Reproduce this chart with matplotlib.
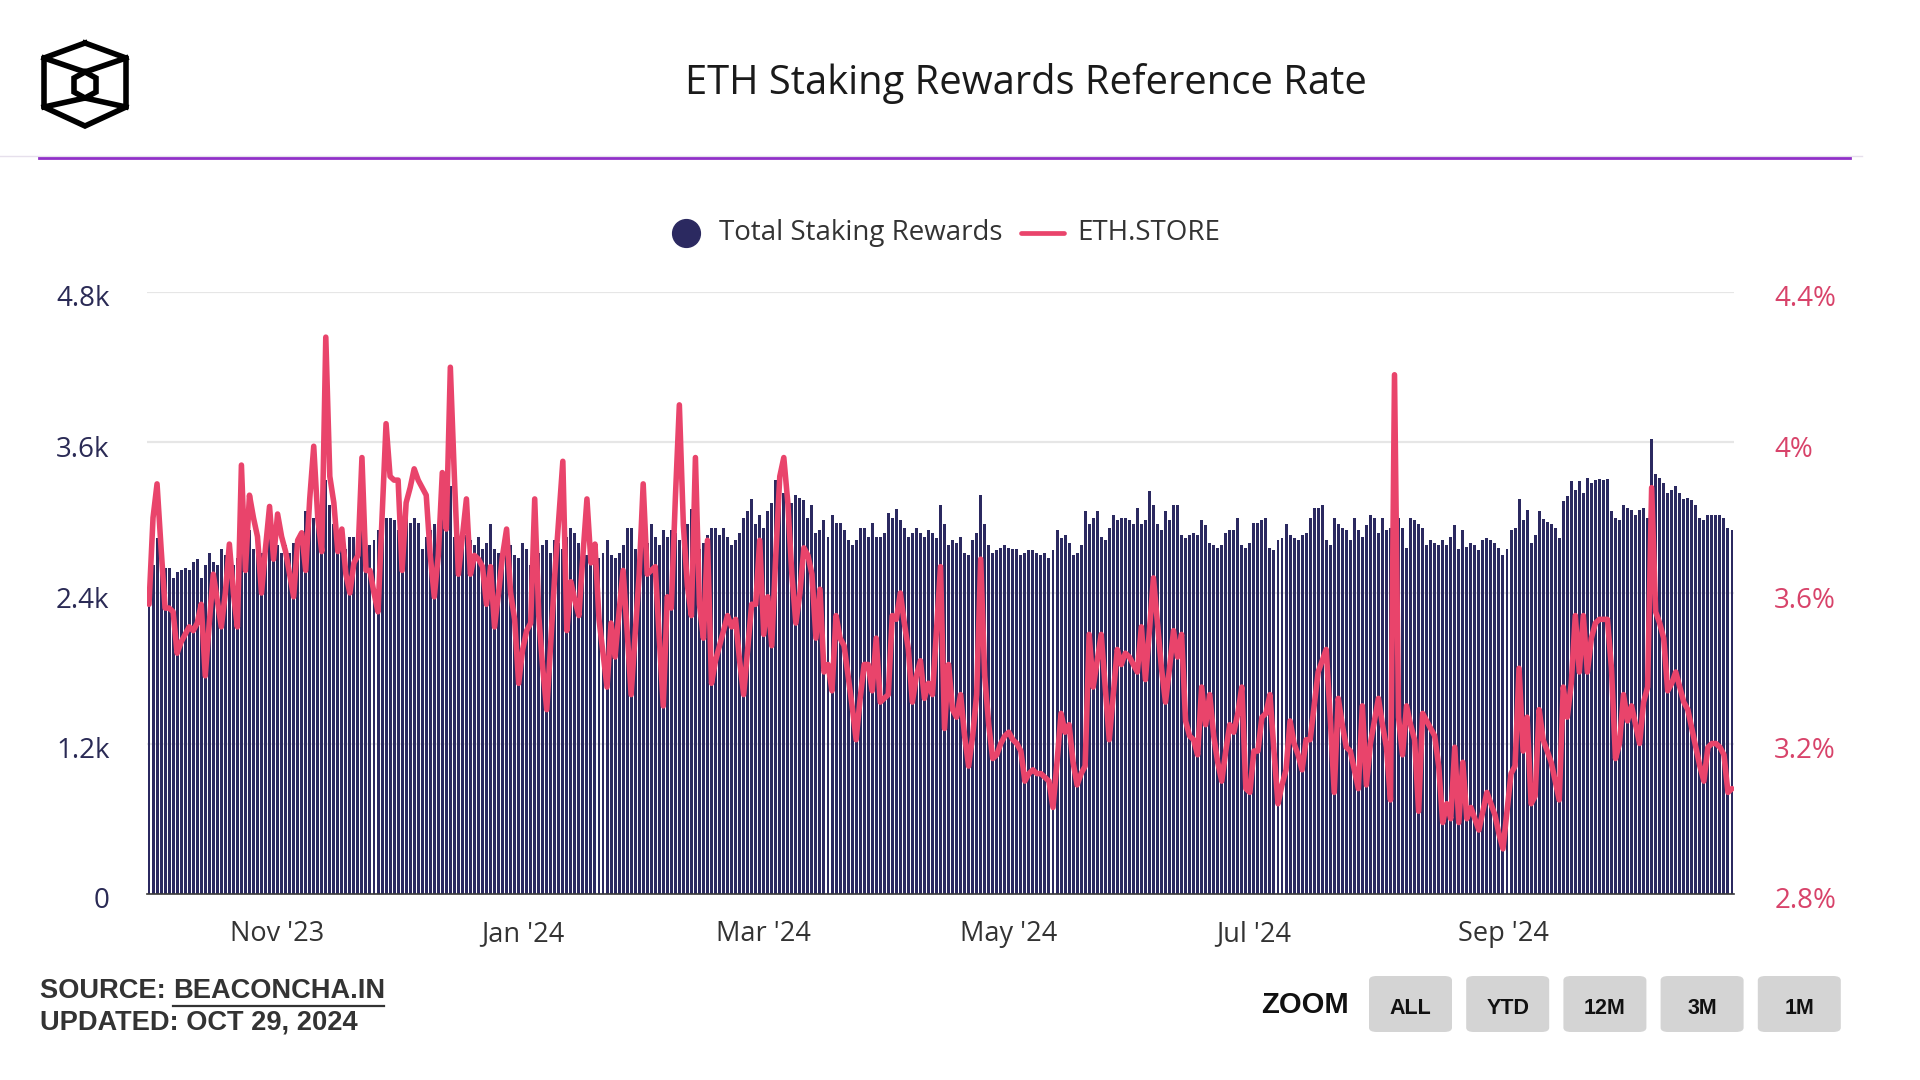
import matplotlib
matplotlib.use("Agg")
import matplotlib.pyplot as plt
from matplotlib.patches import FancyBboxPatch
from matplotlib.transforms import ScaledTranslation
import pandas as pd

# daily series, first bar is 2023-09-30
start_date = "2023-09-30"

# Total Staking Rewards (ETH per day)
total_rewards = [
    # Sep 30 - Dec 1 2023
    2580, 2620, 2840, 2620, 2600, 2600, 2520, 2570, 2580, 2600,
    2580, 2650, 2670, 2520, 2620, 2720, 2650, 2620, 2750, 2700,
    2660, 2620, 2680, 2900, 2950, 2900, 2750, 2720, 2720, 2800,
    2850, 2800, 2780, 2720, 2780, 2720, 2800, 2780, 2850, 3050,
    2950, 3000, 3100, 3050, 3300, 3100, 2950, 2900, 2850, 2750,
    2850, 2850, 2800, 2950, 2850, 2780, 2820, 2900, 3080, 3000,
    3000, 2980, 2900,
    # Dec 2 2023 - Feb 7 2024
    2980, 3020, 2960, 3000, 2960, 2750, 2850, 2900, 2950, 2950,
    3050, 2900, 3250, 2850, 2820, 2860, 2860, 2820, 2780, 2850,
    2750, 2800, 2950, 2750, 2720, 2700, 2750, 2780, 2700, 2680,
    2800, 2750, 2620, 2700, 2720, 2780, 2820, 2720, 2820, 2800,
    2750, 2850, 2920, 2880, 2800, 2750, 2700, 2650, 2750, 2680,
    2720, 2820, 2700, 2680, 2720, 2780, 2920, 2920, 2750, 2700,
    2850, 2800, 2950, 2850, 2780, 2900, 2850, 2900,
    # Feb 8 - Apr 11 2024
    2880, 2820, 2900, 2950, 3070, 2880, 2750, 2800, 2860, 2920,
    2920, 2860, 2920, 2850, 2780, 2820, 2880, 3000, 3050, 3150,
    2950, 3020, 2920, 3050, 3120, 3300, 3320, 3200, 3080, 3120,
    3180, 3160, 3140, 3000, 3100, 2880, 2900, 2980, 2850, 3020,
    2960, 2960, 2900, 2820, 2780, 2820, 2920, 2920, 2850, 2960,
    2850, 2850, 2880, 3040, 3000, 3070, 2980, 2920, 2850, 2880,
    2920, 2880, 2850, 2900,
    # Apr 12 - Jun 15 2024
    2880, 2840, 3100, 2950, 2780, 2820, 2800, 2850, 2720, 2700,
    2820, 2880, 3180, 2950, 2780, 2720, 2740, 2760, 2780, 2760,
    2750, 2750, 2700, 2720, 2740, 2740, 2720, 2700, 2720, 2680,
    2740, 2900, 2840, 2860, 2800, 2700, 2720, 2780, 3050, 2950,
    3000, 3050, 2850, 2820, 2920, 3020, 2980, 3000, 3000, 2980,
    2950, 3080, 2950, 2980, 3210, 3100, 2950, 2900, 3050, 2980,
    3100, 3100, 2860, 2840, 2860,
    # Jun 16 - Aug 19 2024
    2880, 2860, 2980, 2940, 2800, 2780, 2760, 2780, 2880, 2900,
    2900, 3000, 2780, 2760, 2800, 2960, 2960, 2980, 3000, 2760,
    2740, 2820, 2840, 2950, 2860, 2840, 2820, 2860, 2880, 3000,
    3080, 3080, 3100, 2820, 2780, 3000, 2950, 2920, 2900, 2820,
    3000, 2900, 2850, 2940, 3020, 3000, 2880, 3000, 2900, 2920,
    3020, 3000, 2920, 2760, 3000, 2980, 2950, 2920, 2780, 2820,
    2800, 2780, 2820, 2780, 2850,
    # Aug 20 - Oct 28 2024
    2940, 2750, 2900, 2770, 2800, 2780, 2740, 2820, 2840, 2820,
    2800, 2760, 2700, 2750, 2900, 2920, 3150, 2980, 3060, 2800,
    2860, 3050, 2990, 2970, 2950, 2920, 2840, 3130, 3170, 3290,
    3220, 3290, 3200, 3320, 3280, 3300, 3310, 3300, 3310, 3050,
    3000, 2980, 3100, 3080, 3060, 3020, 3060, 3080, 3000, 3630,
    3350, 3320, 3280, 3200, 3220, 3250, 3200, 3150, 3160, 3140,
    3100, 3000, 2980, 3020, 3020, 3020, 3020, 3000, 2920, 2900,
]

# ETH.STORE rate (%), same days
eth_store = [
    3.57, 3.80, 3.89, 3.72, 3.56, 3.56, 3.55, 3.44, 3.47, 3.49,
    3.51, 3.50, 3.52, 3.57, 3.38, 3.52, 3.65, 3.58, 3.51, 3.60,
    3.73, 3.60, 3.51, 3.94, 3.66, 3.86, 3.80, 3.75, 3.60, 3.72,
    3.83, 3.69, 3.81, 3.75, 3.71, 3.65, 3.59, 3.74, 3.76, 3.66,
    3.85, 3.99, 3.80, 3.71, 4.28, 3.91, 3.84, 3.71, 3.77, 3.65,
    3.60, 3.68, 3.70, 3.96, 3.66, 3.66, 3.60, 3.55, 3.80, 4.05,
    3.91, 3.90, 3.90,
    3.66, 3.84, 3.88, 3.93, 3.90, 3.88, 3.86, 3.70, 3.59, 3.70,
    3.92, 3.77, 4.20, 3.91, 3.65, 3.75, 3.85, 3.65, 3.70, 3.69,
    3.67, 3.57, 3.67, 3.51, 3.60, 3.70, 3.77, 3.60, 3.53, 3.36,
    3.45, 3.50, 3.52, 3.85, 3.54, 3.40, 3.29, 3.47, 3.65, 3.80,
    3.95, 3.50, 3.63, 3.58, 3.54, 3.70, 3.85, 3.68, 3.73, 3.53,
    3.44, 3.35, 3.52, 3.43, 3.55, 3.66, 3.50, 3.33, 3.49, 3.65,
    3.89, 3.65, 3.66, 3.67, 3.48, 3.30, 3.59, 3.56,
    3.85, 4.10, 3.78, 3.62, 3.54, 3.96, 3.57, 3.48, 3.74, 3.36,
    3.42, 3.46, 3.50, 3.54, 3.51, 3.53, 3.42, 3.33, 3.45, 3.57,
    3.57, 3.74, 3.49, 3.59, 3.46, 3.70, 3.91, 3.96, 3.84, 3.65,
    3.52, 3.60, 3.72, 3.70, 3.65, 3.48, 3.61, 3.39, 3.41, 3.34,
    3.54, 3.48, 3.46, 3.38, 3.30, 3.21, 3.32, 3.41, 3.41, 3.34,
    3.48, 3.31, 3.32, 3.33, 3.54, 3.53, 3.60, 3.52, 3.45, 3.31,
    3.38, 3.42, 3.32, 3.36,
    3.33, 3.50, 3.67, 3.24, 3.41, 3.29, 3.27, 3.33, 3.22, 3.14,
    3.22, 3.33, 3.69, 3.38, 3.25, 3.16, 3.17, 3.20, 3.22, 3.23,
    3.21, 3.20, 3.18, 3.10, 3.12, 3.13, 3.12, 3.12, 3.11, 3.10,
    3.03, 3.15, 3.28, 3.23, 3.25, 3.15, 3.09, 3.12, 3.14, 3.49,
    3.35, 3.42, 3.49, 3.35, 3.21, 3.33, 3.45, 3.41, 3.44, 3.43,
    3.41, 3.39, 3.51, 3.37, 3.50, 3.64, 3.52, 3.40, 3.31, 3.40,
    3.50, 3.43, 3.49, 3.26, 3.22,
    3.21, 3.17, 3.35, 3.25, 3.33, 3.22, 3.15, 3.10, 3.18, 3.25,
    3.23, 3.28, 3.35, 3.08, 3.07, 3.18, 3.18, 3.27, 3.28, 3.33,
    3.18, 3.04, 3.09, 3.13, 3.26, 3.20, 3.17, 3.13, 3.21, 3.21,
    3.30, 3.39, 3.42, 3.45, 3.27, 3.07, 3.32, 3.25, 3.19, 3.18,
    3.13, 3.08, 3.30, 3.09, 3.20, 3.26, 3.32, 3.25, 3.19, 3.05,
    4.18, 3.27, 3.17, 3.30, 3.25, 3.21, 3.02, 3.28, 3.26, 3.24,
    3.22, 3.14, 2.99, 3.04, 3.00,
    3.19, 2.99, 3.15, 3.00, 3.03, 3.00, 2.97, 3.02, 3.07, 3.04,
    3.01, 2.96, 2.92, 3.02, 3.12, 3.14, 3.40, 3.18, 3.27, 3.04,
    3.06, 3.29, 3.21, 3.18, 3.15, 3.10, 3.05, 3.35, 3.27, 3.36,
    3.54, 3.39, 3.54, 3.39, 3.48, 3.52, 3.53, 3.53, 3.53, 3.40,
    3.16, 3.20, 3.33, 3.26, 3.30, 3.25, 3.20, 3.31, 3.35, 3.88,
    3.55, 3.52, 3.48, 3.34, 3.36, 3.39, 3.35, 3.31, 3.29, 3.24,
    3.19, 3.14, 3.10, 3.19, 3.20, 3.20, 3.19, 3.17, 3.07, 3.08,
]

left_ticks = [0, 1200, 2400, 3600, 4800]
left_tick_labels = ["0", "1.2k", "2.4k", "3.6k", "4.8k"]
right_ticks = [2.8, 3.2, 3.6, 4.0, 4.4]
right_tick_labels = ["2.8%", "3.2%", "3.6%", "4%", "4.4%"]
month_ticks = ["2023-11-01", "2024-01-01", "2024-03-01", "2024-05-01", "2024-07-01", "2024-09-01"]
month_labels = ["Nov '23", "Jan '24", "Mar '24", "May '24", "Jul '24", "Sep '24"]
zoom_buttons = ["ALL", "YTD", "12M", "3M", "1M"]

NAVY = "#2b2960"
PINK = "#e9446b"
W, H = 1920, 1080
FONT = "Open Sans"


def fx(px):
    return px / W


def fy(py):
    return 1 - py / H


fig = plt.figure(figsize=(19.2, 10.8), dpi=100)
fig.patch.set_facecolor("white")

# main plot area
ax = fig.add_axes([fx(147), fy(894), fx(1734) - fx(147), fy(292) - fy(894)])
dates = pd.date_range(start_date, periods=len(total_rewards), freq="D")
line_dates = pd.date_range(start_date, periods=len(eth_store), freq="D")

ax.bar(dates, total_rewards, width=0.74, color=NAVY, linewidth=0, zorder=2)
ax.set_ylim(0, 4800)
ax.set_xlim(dates[0] - pd.Timedelta(hours=12), dates[-1] + pd.Timedelta(hours=12))
ax.set_yticks(left_ticks)
ax.set_yticklabels(left_tick_labels, fontfamily=FONT, fontsize=20, color="#2a2a55")
ax.set_xticks(pd.to_datetime(month_ticks))
ax.set_xticklabels(month_labels, fontfamily=FONT, fontsize=19.5, color="#333333")
ax.tick_params(axis="y", length=0, pad=27)
ax.tick_params(axis="x", length=0, pad=19)
ax.grid(axis="y", color="#e6e6e6", linewidth=1.6, zorder=0)
ax.set_axisbelow(True)
for side in ["top", "right", "left"]:
    ax.spines[side].set_visible(False)
ax.spines["bottom"].set_color("#3a3a3a")
ax.spines["bottom"].set_linewidth(1.2)

ax2 = ax.twinx()
ax2.plot(line_dates, eth_store, color=PINK, linewidth=4.0,
         solid_joinstyle="round", solid_capstyle="round", zorder=3)
ax2.set_ylim(2.8, 4.4)
ax2.set_yticks(right_ticks)
ax2.set_yticklabels(right_tick_labels, fontfamily=FONT, fontsize=20, color="#d8436a")
ax2.tick_params(axis="y", length=0, pad=29)
for side in ["top", "right", "left", "bottom"]:
    ax2.spines[side].set_visible(False)

# nudge y labels a few pixels down, like the original
shift = ScaledTranslation(0, -0.04, fig.dpi_scale_trans)
for lab in ax.get_yticklabels() + ax2.get_yticklabels():
    lab.set_transform(lab.get_transform() + shift)

# title + separator
fig.text(fx(1026), fy(84), "ETH Staking Rewards Reference Rate", ha="center", va="center",
         fontfamily=FONT, fontsize=28.7, color="#1a1a1a")
fig.add_artist(plt.Line2D([0, fx(1862)], [fy(156), fy(156)], color="#e6e0ec", linewidth=1))
fig.add_artist(plt.Line2D([fx(39), fx(1850)], [fy(158), fy(158)], color="#9030c8", linewidth=2))

# logo (cube)
lg = fig.add_axes([fx(40), fy(132), fx(92), fy(38) - fy(132)])
lg.set_xlim(40, 132)
lg.set_ylim(132, 38)
lg.axis("off")
outer = [(85, 43), (126, 58), (126, 107), (85, 126), (44, 107), (44, 58), (85, 43)]
inner = [(85, 72), (96, 78), (96, 92), (85, 98), (74, 92), (74, 78), (85, 72)]
lg.plot([p[0] for p in outer], [p[1] for p in outer], color="black", lw=4, solid_joinstyle="miter")
lg.plot([p[0] for p in inner], [p[1] for p in inner], color="black", lw=4, solid_joinstyle="miter")
lg.plot([44, 85, 126], [58, 72, 58], color="black", lw=4)
lg.plot([44, 85, 126], [107, 98, 107], color="black", lw=4)

# legend
fig.add_artist(plt.Line2D([fx(686)], [fy(233)], marker="o", markersize=20,
                          color=NAVY, linestyle="none"))
fig.text(fx(719), fy(233), "Total Staking Rewards", ha="left", va="center",
         fontfamily=FONT, fontsize=20, color="#333333")
fig.add_artist(plt.Line2D([fx(1021), fx(1064)], [fy(233), fy(233)], color=PINK,
                          linewidth=3.4, solid_capstyle="round"))
fig.text(fx(1077), fy(233), "ETH.STORE", ha="left", va="center",
         fontfamily=FONT, fontsize=20, color="#333333")

# footer: source
foot = dict(fontfamily="Liberation Sans", fontweight="bold", fontsize=19.6, color="#333333",
            va="center", ha="left")
t1 = fig.text(fx(40), fy(991), "SOURCE: ", **foot)
fig.canvas.draw()
r = fig.canvas.get_renderer()
b1 = t1.get_window_extent(r)
t2 = fig.text(b1.x1 / W, fy(991), "BEACONCHA.IN", **foot)
b2 = t2.get_window_extent(r)
fig.add_artist(plt.Line2D([b2.x0 / W, (b2.x1 - 2) / W], [b2.y0 / H - 0.002, b2.y0 / H - 0.002],
                          color="#333333", linewidth=1.6))
fig.text(fx(40), fy(1023), "UPDATED: OCT 29, 2024", **foot)

# zoom buttons
fig.text(fx(1349), fy(1005), "ZOOM", ha="right", va="center", fontfamily="Liberation Sans",
         fontweight="bold", fontsize=21, color="#111111")
for i, name in enumerate(zoom_buttons):
    x0 = 1369 + i * 97.2
    fig.add_artist(FancyBboxPatch((fx(x0), fy(1032)), fx(83), fy(976) - fy(1032),
                                  boxstyle="round,pad=0,rounding_size=0.004",
                                  facecolor="#d4d4d4", edgecolor="none",
                                  transform=fig.transFigure))
    fig.text(fx(x0 + 41.5), fy(1008), name, ha="center", va="center",
             fontfamily="Liberation Sans", fontweight="bold", fontsize=15.5, color="#111111")

fig.savefig("out.png", dpi=100, facecolor="white")
